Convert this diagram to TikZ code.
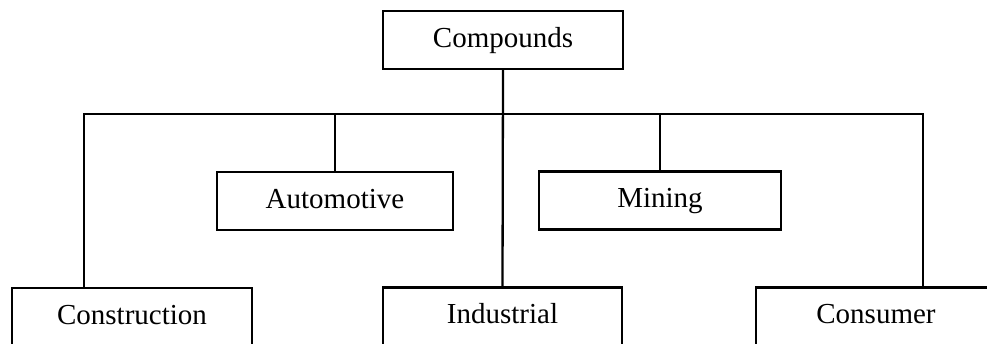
\documentclass[tikz,border=0pt]{standalone}
\usepackage{fontspec}
\setmainfont{Liberation Serif}
\begin{document}
\begin{tikzpicture}[x=1pt,y=-1pt,
  box/.style={draw=black,line width=2.3pt,rectangle,minimum width=239pt,minimum height=58pt,inner sep=0pt,font=\fontsize{29}{33}\selectfont,text height=20pt,text depth=6pt,fill=white},
  link/.style={draw=black,line width=2.3pt}]
\useasboundingbox (0,0) rectangle (987,343);
\clip (0,0) rectangle (987,343);
\fill[white] (0,0) rectangle (987,343);
\node[box,minimum width=240pt] (comp) at (503,40) {Compounds};
\node[box,minimum width=236pt] (auto) at (335,201) {Automotive};
\node[box,minimum width=242pt] (mining) at (660,200.5) {Mining};
\node[box,minimum width=240pt] (constr) at (132,317) {Construction};
\node[box,minimum width=239pt] (indus) at (502.5,316.5) {Industrial};
\node[box,minimum width=240pt] (consum) at (876,316.5) {Consumer};
\coordinate (bl) at (84,114);
\coordinate (br) at (923,114);
\draw[link] (comp.south) -- (indus.north);
\draw[link] (constr.north -| bl) -- (bl) -- (br) -- (consum.north -| br);
\draw[link] (auto.north) -- (auto.north |- bl);
\draw[link] (mining.north) -- (mining.north |- bl);
\end{tikzpicture}
\end{document}
